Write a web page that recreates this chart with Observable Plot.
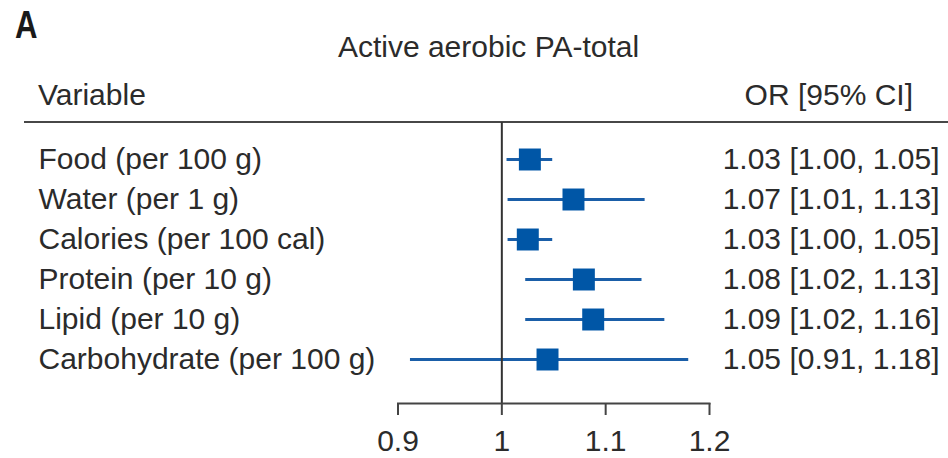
<!DOCTYPE html>
<html>
<head>
<meta charset="utf-8">
<script src="https://cdn.jsdelivr.net/npm/d3@7"></script>
<script src="https://cdn.jsdelivr.net/npm/@observablehq/plot@0.6"></script>
<style>
  body { margin: 0; background: #fff; }
  #wrap { position: relative; width: 948px; height: 458px; overflow: hidden;
          font-family: "Liberation Sans", Arial, Helvetica, sans-serif; color: #2b2b2b; }
  .t { position: absolute; line-height: 1; white-space: nowrap; font-size: 30px; }
  #panel { left: 15px; top: 6px; font-size: 38px; font-weight: bold; transform: scaleX(0.82); transform-origin: left top; color: #1a1a1a; }
  #title { left: 488.5px; top: 32px; transform: translateX(-50%); }
  #varhead { left: 38px; top: 80px; }
  #orhead { right: 35px; top: 80px; }
  #rule { position: absolute; left: 24px; width: 924px; top: 121px; height: 2px; background: #474747; }
  #chart { position: absolute; left: 0; top: 122px; }
</style>
</head>
<body>
<div id="wrap">
  <div class="t" id="panel"></div>
  <div class="t" id="title"></div>
  <div class="t" id="varhead"></div>
  <div class="t" id="orhead"></div>
  <div id="rule"></div>
  <div id="chart"></div>
</div>
<script>
const panelLabel = "A";
const chartTitle = "Active aerobic PA-total";
const variableHeader = "Variable";
const orHeader = "OR [95% CI]";

const variables = [
  "Food (per 100 g)",
  "Water (per 1 g)",
  "Calories (per 100 cal)",
  "Protein (per 10 g)",
  "Lipid (per 10 g)",
  "Carbohydrate (per 100 g)"
];
const orValues = [1.027, 1.069, 1.025, 1.079, 1.088, 1.044];
const ciLow    = [1.005, 1.006, 1.006, 1.023, 1.023, 0.912];
const ciHigh   = [1.049, 1.138, 1.049, 1.135, 1.157, 1.180];
const orLabels = [
  "1.03 [1.00, 1.05]",
  "1.07 [1.01, 1.13]",
  "1.03 [1.00, 1.05]",
  "1.08 [1.02, 1.13]",
  "1.09 [1.02, 1.16]",
  "1.05 [0.91, 1.18]"
];
const xTicks = [0.9, 1, 1.1, 1.2];
const refValue = 1;

document.getElementById("panel").textContent = panelLabel;
document.getElementById("title").textContent = chartTitle;
document.getElementById("varhead").textContent = variableHeader;
document.getElementById("orhead").textContent = orHeader;

const rows = variables.map((v, i) => ({
  v, or: orValues[i], lo: ciLow[i], hi: ciHigh[i], label: orLabels[i]
}));

const chart = Plot.plot({
  width: 948,
  height: 336,
  marginLeft: 397.5,
  marginRight: 239,
  marginTop: 0,
  marginBottom: 55,
  style: { fontFamily: "Liberation Sans, Arial, Helvetica, sans-serif", fontSize: "30px", color: "#2b2b2b", background: "transparent", overflow: "visible" },
  x: { domain: [xTicks[0], xTicks[xTicks.length - 1]] },
  y: { type: "point", domain: variables, range: [35.5, 239], padding: 0, axis: null },
  marks: [
    Plot.ruleY(rows, { y: "v", x1: "lo", x2: "hi", stroke: "#1a5ea8", strokeWidth: 3 }),
    Plot.ruleX([refValue], { stroke: "#333", strokeWidth: 2 }),
    Plot.dot(rows, { x: "or", y: "v", symbol: "square", r: 12.4, fill: "#0056a6", stroke: "none" }),
    Plot.text(rows, { y: "v", text: "v", frameAnchor: "left", textAnchor: "start", dx: -359.5, fontSize: 30, fill: "#2b2b2b" }),
    Plot.text(rows, { y: "v", text: "label", frameAnchor: "right", textAnchor: "end", dx: 230, fontSize: 30, fill: "#2b2b2b" }),
    Plot.frame({ anchor: "bottom", stroke: "#444", strokeWidth: 2 }),
    Plot.axisX({ ticks: xTicks, tickSize: 12, tickPadding: 14, tickFormat: d => String(d), fontSize: 30, stroke: "#444", strokeWidth: 2, fill: "#2b2b2b", label: null })
  ]
});
document.getElementById("chart").appendChild(chart);
</script>
</body>
</html>
